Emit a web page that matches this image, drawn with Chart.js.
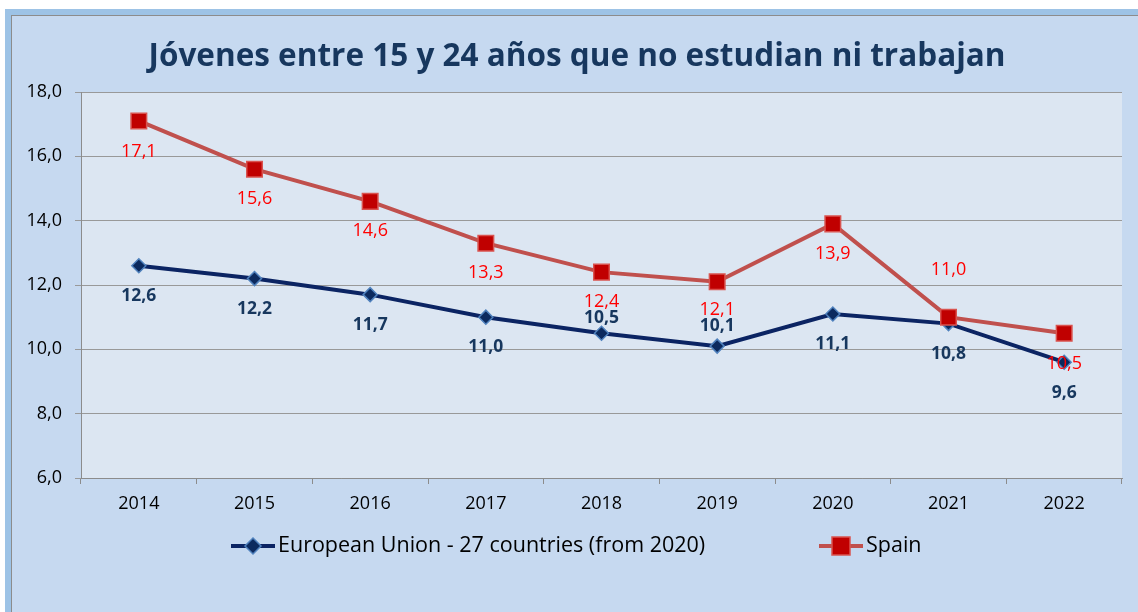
<!DOCTYPE html>
<html>
<head>
<meta charset="utf-8">
<script src="https://cdn.jsdelivr.net/npm/chart.js@4/dist/chart.umd.min.js"></script>
<style>
  html, body { margin: 0; padding: 0; background: #fff; }
  #wrap { width: 1138px; height: 612px; }
</style>
</head>
<body>
<div id="wrap"><canvas id="neetChart" width="1138" height="612"></canvas></div>
<script>
// Jóvenes 15-24 que no estudian ni trabajan (NEET), %
const years = ["2014", "2015", "2016", "2017", "2018", "2019", "2020", "2021", "2022"];
const euValues = [12.6, 12.2, 11.7, 11.0, 10.5, 10.1, 11.1, 10.8, 9.6];
const spainValues = [17.1, 15.6, 14.6, 13.3, 12.4, 12.1, 13.9, 11.0, 10.5];
const yTicks = [6, 8, 10, 12, 14, 16, 18];

const titleText = "Jóvenes entre 15 y 24 años que no estudian ni trabajan";
const euLabel = "European Union - 27 countries (from 2020)";
const spainLabel = "Spain";

const FONT = "'Open Sans', Lato, sans-serif";
const comma = v => v.toFixed(1).replace(".", ",");

// vertical offset (px) of each value label from its point
const euLabelShift = [30, 30, 30, 30, -15, -20, 30, 30, 31];
const spainLabelShift = [31, 30, 30, 30, 30, 28, 30, -47, 31];

const euStyle = { line: "#0b2463", fill: "#0c2a5e", edge: "#4f81bd" };
const spainStyle = { line: "#c0504d", fill: "#c00000", edge: "#d9534f" };

const framePlugin = {
  id: "frame",
  beforeDraw(chart) {
    const { ctx, chartArea: a } = chart;
    ctx.save();
    ctx.fillStyle = "#fff";
    ctx.fillRect(0, 0, chart.width, chart.height);
    ctx.fillStyle = "#9dc3e6";
    ctx.fillRect(5, 9, chart.width - 5, chart.height - 9);
    ctx.fillStyle = "#8c8c8c";
    ctx.fillRect(11, 15, chart.width - 11, chart.height - 15);
    ctx.fillStyle = "#c6d9f0";
    ctx.fillRect(12, 16, chart.width - 12, chart.height - 16);
    ctx.fillStyle = "#dce6f2";
    ctx.fillRect(a.left, a.top, a.right - a.left, a.bottom - a.top);
    ctx.restore();
  },
  afterDatasetsDraw(chart) {
    const { ctx } = chart;
    ctx.save();
    ctx.textAlign = "center";
    ctx.textBaseline = "middle";
    const sets = [
      { idx: 0, shift: euLabelShift, font: "bold 17.5px " + FONT, color: "#17375e" },
      { idx: 1, shift: spainLabelShift, font: "18px " + FONT, color: "#ff0000" }
    ];
    sets.forEach(s => {
      const meta = chart.getDatasetMeta(s.idx);
      const data = chart.data.datasets[s.idx].data;
      ctx.font = s.font;
      ctx.fillStyle = s.color;
      meta.data.forEach((pt, i) => {
        ctx.fillText(comma(data[i]), pt.x, pt.y + s.shift[i]);
      });
    });
    ctx.restore();
  },
  afterDraw(chart) {
    const { ctx } = chart;
    ctx.save();
    // title
    ctx.font = "bold 31.5px " + FONT;
    ctx.fillStyle = "#17375e";
    ctx.textAlign = "center";
    ctx.textBaseline = "alphabetic";
    ctx.fillText(titleText, 577, 66);

    // legend
    const drawKey = (x, y, st, shape, text) => {
      ctx.strokeStyle = st.line;
      ctx.lineWidth = 4;
      ctx.beginPath();
      ctx.moveTo(x, y);
      ctx.lineTo(x + 44, y);
      ctx.stroke();
      const cx = x + 22;
      ctx.fillStyle = st.fill;
      ctx.strokeStyle = st.edge;
      ctx.lineWidth = 1.5;
      ctx.beginPath();
      if (shape === "diamond") {
        ctx.moveTo(cx, y - 8); ctx.lineTo(cx + 8, y); ctx.lineTo(cx, y + 8); ctx.lineTo(cx - 8, y);
        ctx.closePath();
      } else {
        ctx.rect(cx - 9, y - 9, 18, 18);
      }
      ctx.fill();
      ctx.stroke();
      ctx.font = "21.5px " + FONT;
      ctx.fillStyle = "#000";
      ctx.textAlign = "left";
      ctx.textBaseline = "middle";
      ctx.fillText(text, x + 47, y);
    };
    drawKey(231, 546, euStyle, "diamond", euLabel);
    drawKey(819, 546, spainStyle, "square", spainLabel);
    ctx.restore();
  }
};

new Chart(document.getElementById("neetChart"), {
  type: "line",
  data: {
    labels: years,
    datasets: [
      {
        label: euLabel,
        data: euValues,
        borderColor: euStyle.line,
        borderWidth: 4,
        pointStyle: "rectRot",
        pointRadius: 7,
        pointBackgroundColor: euStyle.fill,
        pointBorderColor: euStyle.edge,
        pointBorderWidth: 1.5,
        tension: 0,
        order: 2
      },
      {
        label: spainLabel,
        data: spainValues,
        borderColor: spainStyle.line,
        borderWidth: 4,
        pointStyle: "rect",
        pointRadius: 11,
        pointBackgroundColor: spainStyle.fill,
        pointBorderColor: spainStyle.edge,
        pointBorderWidth: 1.5,
        tension: 0,
        order: 1
      }
    ]
  },
  options: {
    responsive: false,
    animation: false,
    layout: { padding: { left: 0, top: 92, right: 16, bottom: 0 } },
    plugins: {
      legend: { display: false },
      title: { display: false },
      tooltip: { enabled: false }
    },
    scales: {
      x: {
        offset: true,
        afterFit: s => { s.height = 134; },
        grid: { drawOnChartArea: false, drawTicks: true, tickLength: 6, color: "#8c8c8c", offset: true },
        border: { color: "#8c8c8c", width: 1 },
        ticks: { color: "#000", font: { family: FONT, size: 18 }, padding: 9, maxRotation: 0 }
      },
      y: {
        min: 6,
        max: 18,
        afterFit: s => { s.width = 81; },
        afterBuildTicks: s => { s.ticks = yTicks.map(v => ({ value: v })); },
        grid: { color: "#999999", lineWidth: 1, tickLength: 6 },
        border: { color: "#8c8c8c", width: 1 },
        ticks: { color: "#000", font: { family: FONT, size: 18 }, padding: 13, callback: v => comma(v) }
      }
    }
  },
  plugins: [framePlugin]
});
</script>
</body>
</html>
